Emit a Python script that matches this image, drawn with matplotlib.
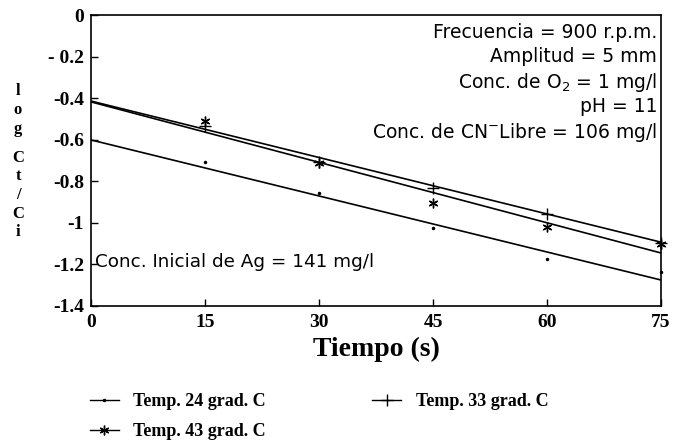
import matplotlib.pyplot as plt
import numpy as np
from matplotlib.lines import Line2D

# measured points (log Ct/Ci) at each time
tiempo = [15, 30, 45, 60, 75]
temp24 = [-0.707, -0.856, -1.025, -1.174, -1.237]
temp33 = [-0.535, -0.705, -0.832, -0.957, -1.097]
temp43 = [-0.510, -0.712, -0.905, -1.020, -1.100]

# fitted straight lines, value at t=0 and t=75
fit_t = [0, 75]
fit24 = [-0.601, -1.275]
fit33 = [-0.414, -1.093]
fit43 = [-0.418, -1.145]

labels = ["Temp. 24 grad. C", "Temp. 33 grad. C", "Temp. 43 grad. C"]
xticks = [0, 15, 30, 45, 60, 75]
yticks = [0, -0.2, -0.4, -0.6, -0.8, -1, -1.2, -1.4]
ytick_labels = ["0", "- 0.2", "-0.4", "-0.6", "-0.8", "-1", "-1.2", "-1.4"]

notes = ["Frecuencia = 900 r.p.m.", "Amplitud = 5 mm",
         "Conc. de O$_2$ = 1 mg/l", "pH = 11",
         "Conc. de CN$^{-}$Libre = 106 mg/l"]

serif = "Liberation Serif"
sans = "DejaVu Sans"
asterisk = (6, 2, 0)

fig = plt.figure(figsize=(6.75, 4.41), dpi=100)
ax = fig.add_axes([91 / 675, 1 - 306 / 441, 570 / 675, 291 / 441])

lw = 1.2
ax.plot(fit_t, fit24, color="black", lw=lw)
ax.plot(fit_t, fit33, color="black", lw=lw)
ax.plot(fit_t, fit43, color="black", lw=lw)
ax.plot(tiempo, temp24, ls="none", marker=".", ms=3, color="black", clip_on=False)
ax.plot(tiempo, temp33, ls="none", marker="+", ms=8, mew=1, color="black", clip_on=False)
ax.plot(tiempo, temp43, ls="none", marker=asterisk, ms=7, mew=1, color="black", clip_on=False)

ax.set_xlim(0, 75)
ax.set_ylim(-1.4, 0)
ax.set_xticks(xticks)
ax.set_xticklabels([str(t) for t in xticks])
ax.set_yticks(yticks)
ax.set_yticklabels(ytick_labels)
ax.tick_params(direction="in", length=5, width=1, labelsize=14)
ax.tick_params(axis="x", pad=6)
ax.tick_params(axis="y", pad=5)
for lab in ax.get_xticklabels() + ax.get_yticklabels():
    lab.set_fontfamily(serif)
    lab.set_fontweight("bold")
for s in ax.spines.values():
    s.set_linewidth(1.2)

ax.set_xlabel("Tiempo (s)", fontsize=20, fontfamily=serif, fontweight="bold", labelpad=4)

# stacked y label
ylab = [("l", 91), ("o", 110), ("g", 129), ("C", 158), ("t", 176), ("/", 195), ("C", 214), ("i", 232)]
for ch, yp in ylab:
    fig.text(18 / 675, 1 - yp / 441, ch, ha="center", va="center",
             fontsize=12, fontfamily=serif, fontweight="bold")

for i, txt in enumerate(notes):
    fig.text(657 / 675, 1 - (32 + 25 * i) / 441, txt, ha="right", va="center",
             fontsize=13.5, fontfamily=sans)
fig.text(95 / 675, 1 - 262 / 441, "Conc. Inicial de Ag = 141 mg/l", ha="left", va="center",
         fontsize=13.2, fontfamily=sans)

handles = [
    Line2D([], [], color="black", lw=1, marker=".", ms=3),
    Line2D([], [], color="black", lw=1, marker=asterisk, ms=7),
    Line2D([], [], color="black", lw=1, marker="+", ms=8),
]
leg_labels = [labels[0], labels[2], labels[1]]
fig.legend(handles, leg_labels, ncol=2, loc="upper left", bbox_to_anchor=(90 / 675, 1 - 393 / 441),
           frameon=False, borderpad=0, borderaxespad=0, handlelength=1.6, handletextpad=0.8,
           columnspacing=5.9, labelspacing=0.72,
           prop={"family": serif, "weight": "bold", "size": 13})

fig.savefig("out.png", dpi=100)
